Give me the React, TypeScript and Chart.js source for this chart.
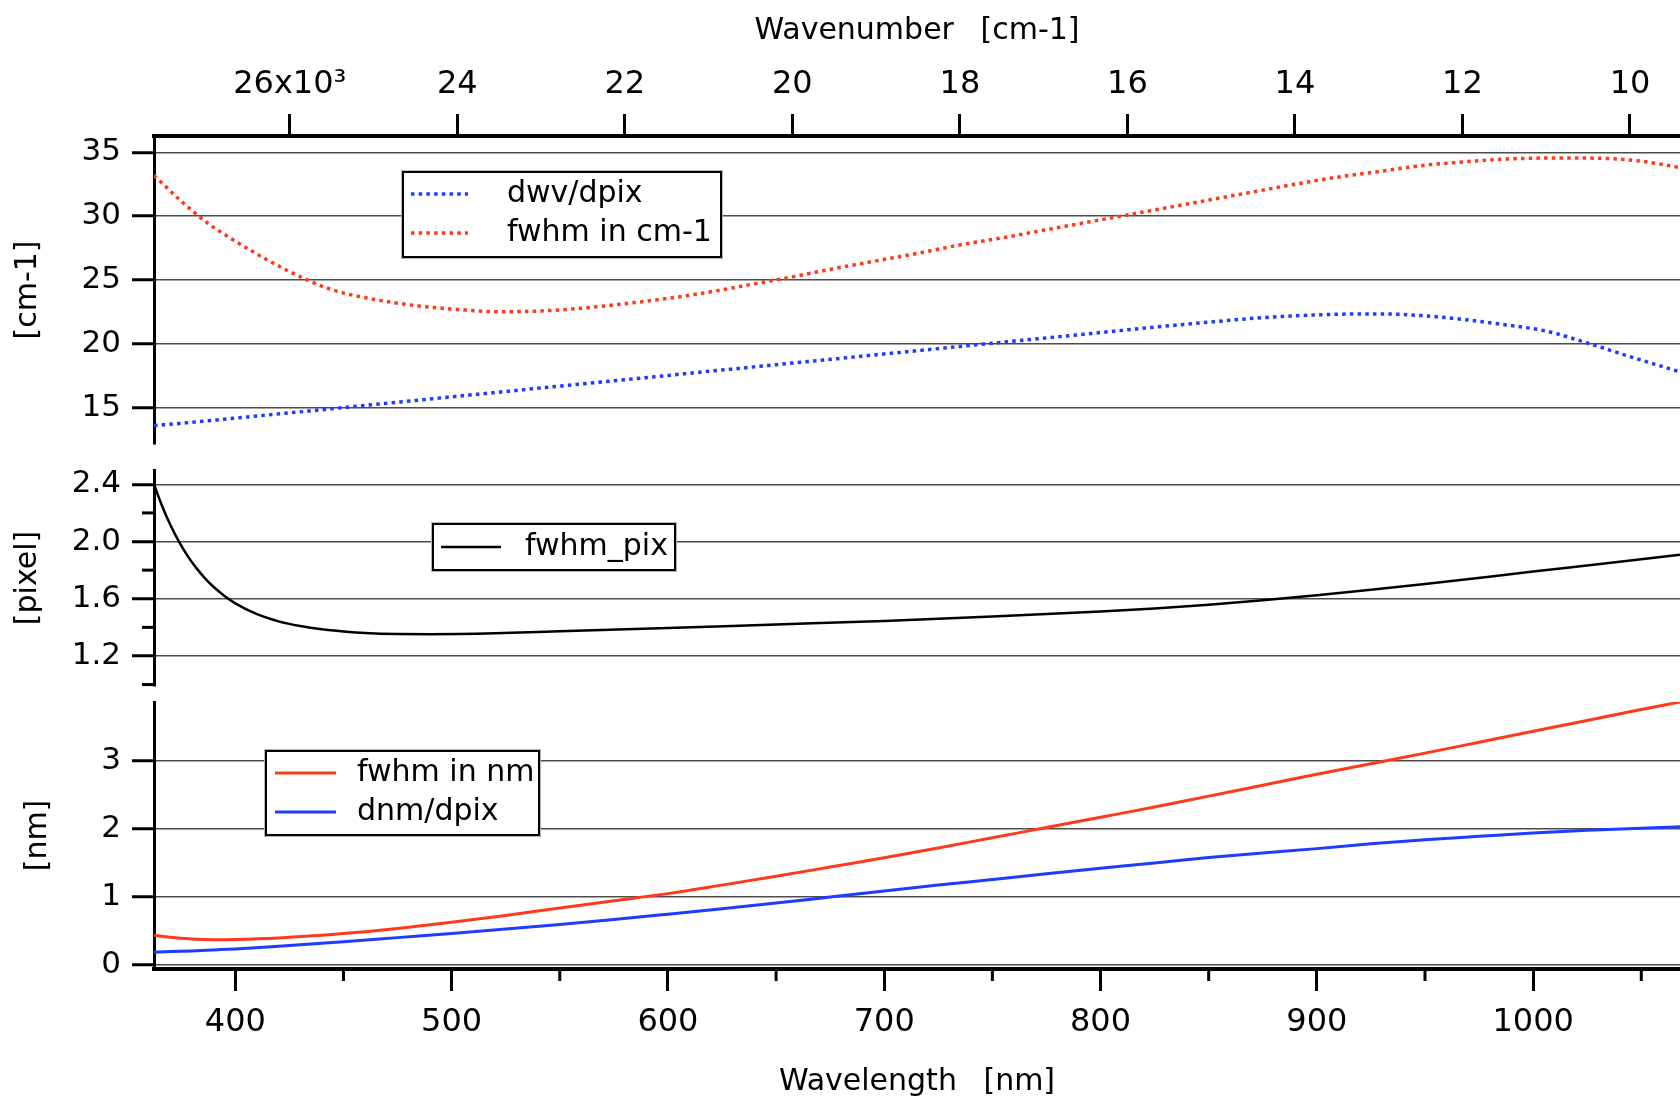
import React, { useEffect, useRef } from 'react';
import { Chart, registerables } from 'chart.js';

Chart.register(...registerables);

// ---------------- data ----------------
// Top panel: plotted against the wavenumber (top) axis
const wavenumberPoints = [27621, 27300, 27000, 26750, 26500, 26000, 25500, 25000, 24500, 24000, 23500, 23000, 22500, 22000, 21500, 21000, 20500, 20000, 19500, 19000, 18500, 18000, 17500, 17000, 16500, 16000, 15500, 15000, 14500, 14000, 13500, 13000, 12500, 12000, 11500, 11000, 10500, 10000, 9700, 9403];
const dwvDpix = [13.6, 13.78, 13.97, 14.12, 14.28, 14.6, 14.92, 15.25, 15.57, 15.9, 16.22, 16.55, 16.87, 17.2, 17.52, 17.85, 18.17, 18.5, 18.82, 19.15, 19.47, 19.8, 20.12, 20.45, 20.77, 21.1, 21.42, 21.72, 22.0, 22.2, 22.32, 22.35, 22.22, 21.92, 21.5, 21.0, 20.05, 19.0, 18.4, 17.8];
const fwhmCm = [33.2, 31.2, 29.55, 28.45, 27.45, 25.65, 24.25, 23.5, 23.0, 22.7, 22.52, 22.58, 22.8, 23.15, 23.55, 24.05, 24.65, 25.25, 25.9, 26.5, 27.1, 27.75, 28.3, 28.9, 29.5, 30.1, 30.7, 31.3, 31.9, 32.5, 33.05, 33.5, 33.95, 34.25, 34.47, 34.55, 34.55, 34.4, 34.15, 33.8];

// Middle panel
const pixWavelength = [362.4, 366, 370, 374, 378, 382, 386, 390, 395, 400, 410, 420, 430, 440, 450, 460, 475, 490, 520, 550, 600, 650, 700, 750, 800, 825, 850, 875, 900, 925, 950, 1000, 1035, 1067.9];
const fwhmPix = [2.40, 2.254, 2.115, 1.997, 1.898, 1.814, 1.743, 1.682, 1.62, 1.568, 1.492, 1.442, 1.409, 1.386, 1.371, 1.36, 1.353, 1.352, 1.358, 1.372, 1.395, 1.42, 1.445, 1.475, 1.51, 1.532, 1.558, 1.59, 1.625, 1.663, 1.703, 1.79, 1.85, 1.908];

// Bottom panel
const nmWavelength = [362.4, 370, 380, 390, 400, 420, 450, 475, 500, 525, 550, 575, 600, 625, 650, 675, 700, 725, 750, 775, 800, 825, 850, 875, 900, 925, 950, 975, 1000, 1025, 1050, 1067.9];
const fwhmNm = [0.44, 0.41, 0.385, 0.375, 0.378, 0.40, 0.465, 0.54, 0.63, 0.73, 0.84, 0.945, 1.05, 1.175, 1.305, 1.44, 1.575, 1.72, 1.87, 2.02, 2.17, 2.32, 2.48, 2.64, 2.80, 2.955, 3.11, 3.27, 3.43, 3.59, 3.75, 3.86];
const dnmDpix = [0.19, 0.2, 0.21, 0.225, 0.24, 0.28, 0.345, 0.405, 0.465, 0.53, 0.597, 0.67, 0.749, 0.83, 0.913, 1.0, 1.088, 1.175, 1.257, 1.34, 1.421, 1.5, 1.58, 1.645, 1.71, 1.78, 1.84, 1.89, 1.94, 1.98, 2.01, 2.03];

// ticks
const wavenumberTicks = [26000, 24000, 22000, 20000, 18000, 16000, 14000, 12000, 10000];
const wavenumberTickLabels = ['26x10³', '24', '22', '20', '18', '16', '14', '12', '10'];
const wavelengthTicks = [400, 500, 600, 700, 800, 900, 1000];
const wavelengthTickLabels = ['400', '500', '600', '700', '800', '900', '1000'];
const wavelengthMinorTicks = [450, 550, 650, 750, 850, 950, 1050];
const cmTicks = [15, 20, 25, 30, 35];
const cmTickLabels = ['15', '20', '25', '30', '35'];
const pixTicks = [1.2, 1.6, 2.0, 2.4];
const pixTickLabels = ['1.2', '1.6', '2.0', '2.4'];
const pixMinorTicks = [1.0, 1.4, 1.8, 2.2];
const nmTicks = [0, 1, 2, 3];
const nmTickLabels = ['0', '1', '2', '3'];

// ---------------- styles ----------------
const FONT = "'DejaVu Sans', sans-serif";
const RED = '#ff3a1c';
const BLUE = '#1e3cff';
const GRID = '#4d4d4d';
const LEFT = 154;

Chart.defaults.font.family = FONT;

const fixedTicks = (values: number[]) => (s: any) => {
  s.ticks = values.map((v) => ({ value: v }));
};
const labelFor = (values: number[], labels: string[]) => (v: any) => {
  const i = values.indexOf(v);
  return i >= 0 ? labels[i] : '';
};
const zeroPad = (s: any) => {
  s.paddingTop = 0;
  s.paddingBottom = 0;
  s.paddingLeft = 0;
  s.paddingRight = 0;
};

const boxLegendPlugin = {
  id: 'boxLegend',
  afterDatasetsDraw(chart: any, _args: any, opts: any) {
    if (!opts || !opts.box) return;
    const ctx = chart.ctx;
    const { x, y, w, h } = opts.box;
    ctx.save();
    ctx.fillStyle = '#ffffff';
    ctx.fillRect(x, y, w, h);
    ctx.strokeStyle = '#b5b5b5';
    ctx.lineWidth = 1;
    ctx.strokeRect(x - 1.5, y - 1.5, w + 3, h + 3);
    ctx.strokeStyle = '#000';
    ctx.lineWidth = 2;
    ctx.strokeRect(x, y, w, h);
    opts.items.forEach((it: any) => {
      const ds = chart.data.datasets[it.index];
      ctx.beginPath();
      ctx.setLineDash(ds.borderDash || []);
      ctx.lineWidth = ds.borderWidth;
      ctx.strokeStyle = ds.borderColor;
      ctx.lineCap = 'butt';
      ctx.moveTo(opts.lineX1, it.y);
      ctx.lineTo(opts.lineX2, it.y);
      ctx.stroke();
      ctx.setLineDash([]);
      ctx.fillStyle = '#000';
      ctx.font = `30px ${FONT}`;
      ctx.textBaseline = 'middle';
      ctx.textAlign = 'left';
      (ctx as any).wordSpacing = '0px';
      ctx.fillText(ds.label, opts.textX, it.y);
    });
    ctx.restore();
  },
};

const minorTicksPlugin = {
  id: 'minorTicks',
  afterDraw(chart: any, _args: any, opts: any) {
    if (!opts || !opts.scaleId) return;
    const scale = chart.scales[opts.scaleId];
    const ctx = chart.ctx;
    ctx.save();
    ctx.strokeStyle = '#000';
    ctx.lineWidth = 3;
    opts.values.forEach((v: number) => {
      const p = scale.getPixelForValue(v);
      ctx.beginPath();
      if (scale.isHorizontal()) {
        ctx.moveTo(p, scale.top);
        ctx.lineTo(p, scale.top + opts.length);
      } else {
        ctx.moveTo(scale.right - opts.length, p);
        ctx.lineTo(scale.right, p);
      }
      ctx.stroke();
    });
    ctx.restore();
  },
};

const spacingPlugin = {
  id: 'wordSpace',
  beforeDraw(chart: any) {
    (chart.ctx as any).wordSpacing = '17px';
  },
};

Chart.register(boxLegendPlugin as any, minorTicksPlugin as any, spacingPlugin as any);

const yAxis = (min: number, max: number, ticks: number[], labels: string[], title: string, titleOffset: number) => ({
  type: 'linear',
  position: 'left',
  min,
  max,
  afterBuildTicks: fixedTicks(ticks),
  afterFit: (s: any) => {
    s.width = LEFT;
    zeroPad(s);
  },
  ticks: {
    color: '#000',
    padding: 11,
    font: { family: FONT, size: 31 },
    callback: labelFor(ticks, labels),
    autoSkip: false,
  },
  grid: {
    color: GRID,
    lineWidth: 1.5,
    drawTicks: true,
    tickLength: 22,
    tickColor: '#000',
    tickWidth: 3,
  },
  border: { display: true, color: '#000', width: 3 },
  title: {
    display: true,
    text: title,
    color: '#000',
    font: { family: FONT, size: 30 },
    padding: { top: titleOffset, bottom: 0 },
  },
});

const hiddenX = {
  type: 'linear',
  display: false,
  min: 362.4,
  max: 1067.9,
};

const baseOptions = {
  responsive: false,
  animation: false,
  devicePixelRatio: 1,
  events: [],
};

const dotted = {
  borderWidth: 3.5,
  borderDash: [3.5, 4.2],
  borderCapStyle: 'butt',
  pointRadius: 0,
  cubicInterpolationMode: 'monotone',
};

export default function App() {
  const topRef = useRef<HTMLCanvasElement>(null);
  const midRef = useRef<HTMLCanvasElement>(null);
  const botRef = useRef<HTMLCanvasElement>(null);

  useEffect(() => {
    const top = new Chart(topRef.current as HTMLCanvasElement, {
      type: 'line',
      data: {
        datasets: [
          {
            label: 'dwv/dpix',
            data: wavenumberPoints.map((x, i) => ({ x, y: dwvDpix[i] })),
            xAxisID: 'x2',
            yAxisID: 'y',
            borderColor: BLUE,
            ...dotted,
          },
          {
            label: 'fwhm in cm-1',
            data: wavenumberPoints.map((x, i) => ({ x, y: fwhmCm[i] })),
            xAxisID: 'x2',
            yAxisID: 'y',
            borderColor: RED,
            ...dotted,
          },
        ],
      },
      options: {
        ...baseOptions,
        layout: { padding: { left: 0, right: 0, top: 0, bottom: 6 } },
        plugins: {
          legend: { display: false },
          tooltip: { enabled: false },
          boxLegend: {
            box: { x: 403, y: 172, w: 318, h: 85 },
            lineX1: 411,
            lineX2: 468,
            textX: 507,
            items: [
              { index: 0, y: 194 },
              { index: 1, y: 233 },
            ],
          },
        },
        scales: {
          x: hiddenX,
          x2: {
            type: 'linear',
            position: 'top',
            reverse: true,
            min: 9403,
            max: 27621,
            afterBuildTicks: fixedTicks(wavenumberTicks),
            afterFit: (s: any) => {
              s.height = 136;
              zeroPad(s);
            },
            ticks: {
              color: '#000',
              padding: 10,
              maxRotation: 0,
              autoSkip: false,
              font: { family: FONT, size: 32 },
              callback: labelFor(wavenumberTicks, wavenumberTickLabels),
            },
            grid: {
              drawOnChartArea: false,
              drawTicks: true,
              tickLength: 22,
              tickColor: '#000',
              tickWidth: 3,
            },
            border: { display: true, color: '#000', width: 4 },
            title: {
              display: true,
              text: 'Wavenumber [cm-1]',
              color: '#000',
              font: { family: FONT, size: 30 },
              padding: { top: 13, bottom: 0 },
            },
          },
          y: yAxis(12.16, 36.28, cmTicks, cmTickLabels, '[cm-1]', 10),
        },
      } as any,
    } as any);

    const mid = new Chart(midRef.current as HTMLCanvasElement, {
      type: 'line',
      data: {
        datasets: [
          {
            label: 'fwhm_pix',
            data: pixWavelength.map((x, i) => ({ x, y: fwhmPix[i] })),
            xAxisID: 'x',
            yAxisID: 'y',
            borderColor: '#000',
            borderWidth: 2.5,
            pointRadius: 0,
            cubicInterpolationMode: 'monotone',
          },
        ],
      },
      options: {
        ...baseOptions,
        layout: { padding: { left: 0, right: 0, top: 10, bottom: 10 } },
        plugins: {
          legend: { display: false },
          tooltip: { enabled: false },
          boxLegend: {
            box: { x: 433, y: 64, w: 242, h: 46 },
            lineX1: 441,
            lineX2: 501,
            textX: 525,
            items: [{ index: 0, y: 87 }],
          },
          minorTicks: { scaleId: 'y', values: pixMinorTicks, length: 12 },
        },
        scales: {
          x: hiddenX,
          y: yAxis(0.99, 2.5, pixTicks, pixTickLabels, '[pixel]', 10),
        },
      } as any,
    } as any);

    const bot = new Chart(botRef.current as HTMLCanvasElement, {
      type: 'line',
      data: {
        datasets: [
          {
            label: 'fwhm in nm',
            data: nmWavelength.map((x, i) => ({ x, y: fwhmNm[i] })),
            xAxisID: 'x',
            yAxisID: 'y',
            borderColor: RED,
            borderWidth: 3,
            pointRadius: 0,
            cubicInterpolationMode: 'monotone',
          },
          {
            label: 'dnm/dpix',
            data: nmWavelength.map((x, i) => ({ x, y: dnmDpix[i] })),
            xAxisID: 'x',
            yAxisID: 'y',
            borderColor: BLUE,
            borderWidth: 3,
            pointRadius: 0,
            cubicInterpolationMode: 'monotone',
          },
        ],
      },
      options: {
        ...baseOptions,
        layout: { padding: { left: 0, right: 0, top: 7, bottom: 0 } },
        plugins: {
          legend: { display: false },
          tooltip: { enabled: false },
          boxLegend: {
            box: { x: 266, y: 56, w: 273, h: 84 },
            lineX1: 275,
            lineX2: 336,
            textX: 357,
            items: [
              { index: 0, y: 78 },
              { index: 1, y: 117 },
            ],
          },
          minorTicks: { scaleId: 'x', values: wavelengthMinorTicks, length: 12 },
        },
        scales: {
          x: {
            type: 'linear',
            position: 'bottom',
            min: 362.4,
            max: 1067.9,
            afterBuildTicks: fixedTicks(wavelengthTicks),
            afterFit: (s: any) => {
              s.height = 132;
              zeroPad(s);
            },
            ticks: {
              color: '#000',
              padding: 12,
              maxRotation: 0,
              autoSkip: false,
              font: { family: FONT, size: 32 },
              callback: labelFor(wavelengthTicks, wavelengthTickLabels),
            },
            grid: {
              drawOnChartArea: false,
              drawTicks: true,
              tickLength: 22,
              tickColor: '#000',
              tickWidth: 3,
            },
            border: { display: true, color: '#000', width: 4 },
            title: {
              display: true,
              text: 'Wavelength [nm]',
              color: '#000',
              font: { family: FONT, size: 30 },
              padding: { top: 0, bottom: 1 },
            },
          },
          y: yAxis(-0.055, 3.86, nmTicks, nmTickLabels, '[nm]', 20),
        },
      } as any,
    } as any);

    return () => {
      top.destroy();
      mid.destroy();
      bot.destroy();
    };
  }, []);

  return (
    <div
      style={{
        position: 'absolute',
        left: 0,
        top: 0,
        width: 1680,
        height: 1101,
        overflow: 'hidden',
        background: '#ffffff',
      }}
    >
      <canvas ref={topRef} width={1680} height={450} style={{ position: 'absolute', left: 0, top: 0 }} />
      <canvas ref={midRef} width={1680} height={236} style={{ position: 'absolute', left: 0, top: 460 }} />
      <canvas ref={botRef} width={1680} height={406} style={{ position: 'absolute', left: 0, top: 695 }} />
    </div>
  );
}
